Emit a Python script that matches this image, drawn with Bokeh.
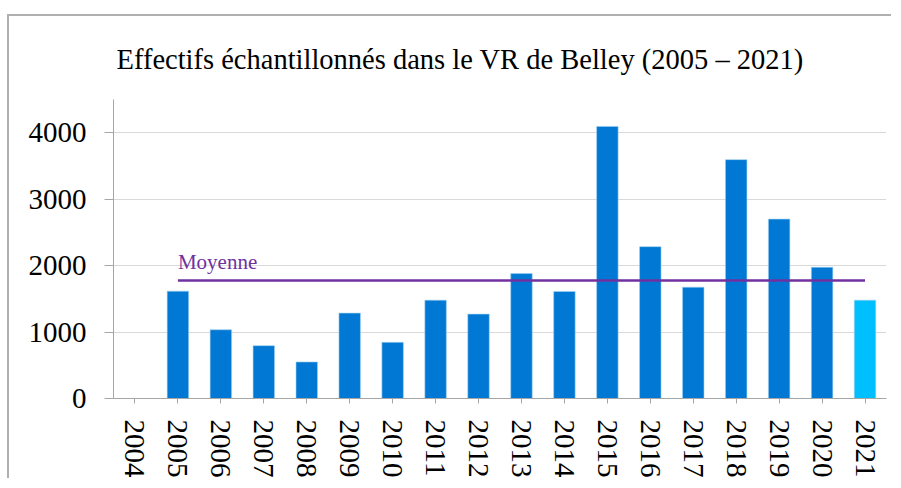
from bokeh.plotting import figure
from bokeh.models import ColumnDataSource, Label, Range1d
from bokeh.embed import file_html
from bokeh.resources import INLINE

years = [str(y) for y in range(2004, 2022)]
values = [0, 1615, 1035, 795, 550, 1285, 845, 1480, 1270, 1880, 1610, 4095, 2285, 1675, 3595, 2700, 1975, 1480]
colors = ["#0078D4"] * 17 + ["#00BFFF"]
mean_years = ["2005", "2021"]
mean_value = sum(values[1:]) / len(values[1:])
title_text = "Effectifs échantillonnés dans le VR de Belley (2005 – 2021)"
y_ticks = [0, 1000, 2000, 3000, 4000]

FONT = "Liberation Serif"

p = figure(x_range=years, width=884, height=464, output_backend="svg",
           toolbar_location=None, min_border_left=104, min_border_right=7,
           min_border_top=83, min_border_bottom=80,
           styles={"border-top": "2px solid #b0b0b0", "border-left": "2px solid #b0b0b0",
                   "margin-top": "14px", "margin-left": "7px"})
p.y_range = Range1d(0, 4500)

src = ColumnDataSource(dict(x=years[1:], top=values[1:], color=colors[1:]))
p.vbar(x="x", top="top", width=0.5, color="color", line_color="#9fd0f0", line_width=0.6, source=src)

p.line(x=mean_years, y=[mean_value, mean_value], line_color="#7030A0", line_width=2.5)
p.add_layout(Label(x=1.5, y=mean_value, text="Moyenne", text_font=FONT, text_font_size="21px",
                   text_color="#7030A0", y_offset=7, x_offset=0))

p.title.text = title_text
p.title.text_font = FONT
p.title.text_font_size = "28.5px"
p.title.text_font_style = "normal"
p.title.text_color = "black"
p.title.align = "left"
p.title.offset = 3
p.title.standoff = 50

p.xgrid.grid_line_color = None
p.ygrid.grid_line_color = "#d9d9d9"
p.ygrid.ticker = y_ticks
p.yaxis.ticker = y_ticks
p.outline_line_color = None

p.yaxis.axis_line_color = "#a6a6a6"
p.yaxis.major_tick_line_color = "#a6a6a6"
p.yaxis.major_tick_out = 9
p.yaxis.major_tick_in = 0
p.yaxis.minor_tick_line_color = None
p.yaxis.major_label_standoff = 18
p.yaxis.major_label_text_font = FONT
p.yaxis.major_label_text_font_size = "29px"
p.yaxis.major_label_text_color = "black"

p.xaxis.axis_line_color = "#a6a6a6"
p.xaxis.major_tick_line_color = "#a6a6a6"
p.xaxis.major_tick_out = 5
p.xaxis.major_tick_in = 0
p.xaxis.major_label_orientation = "vertical"
p.xaxis.major_label_standoff = 16
p.xaxis.major_label_text_font = FONT
p.xaxis.major_label_text_font_size = "29px"
p.xaxis.major_label_text_color = "black"

open("out.html", "w").write(file_html(p, INLINE))
